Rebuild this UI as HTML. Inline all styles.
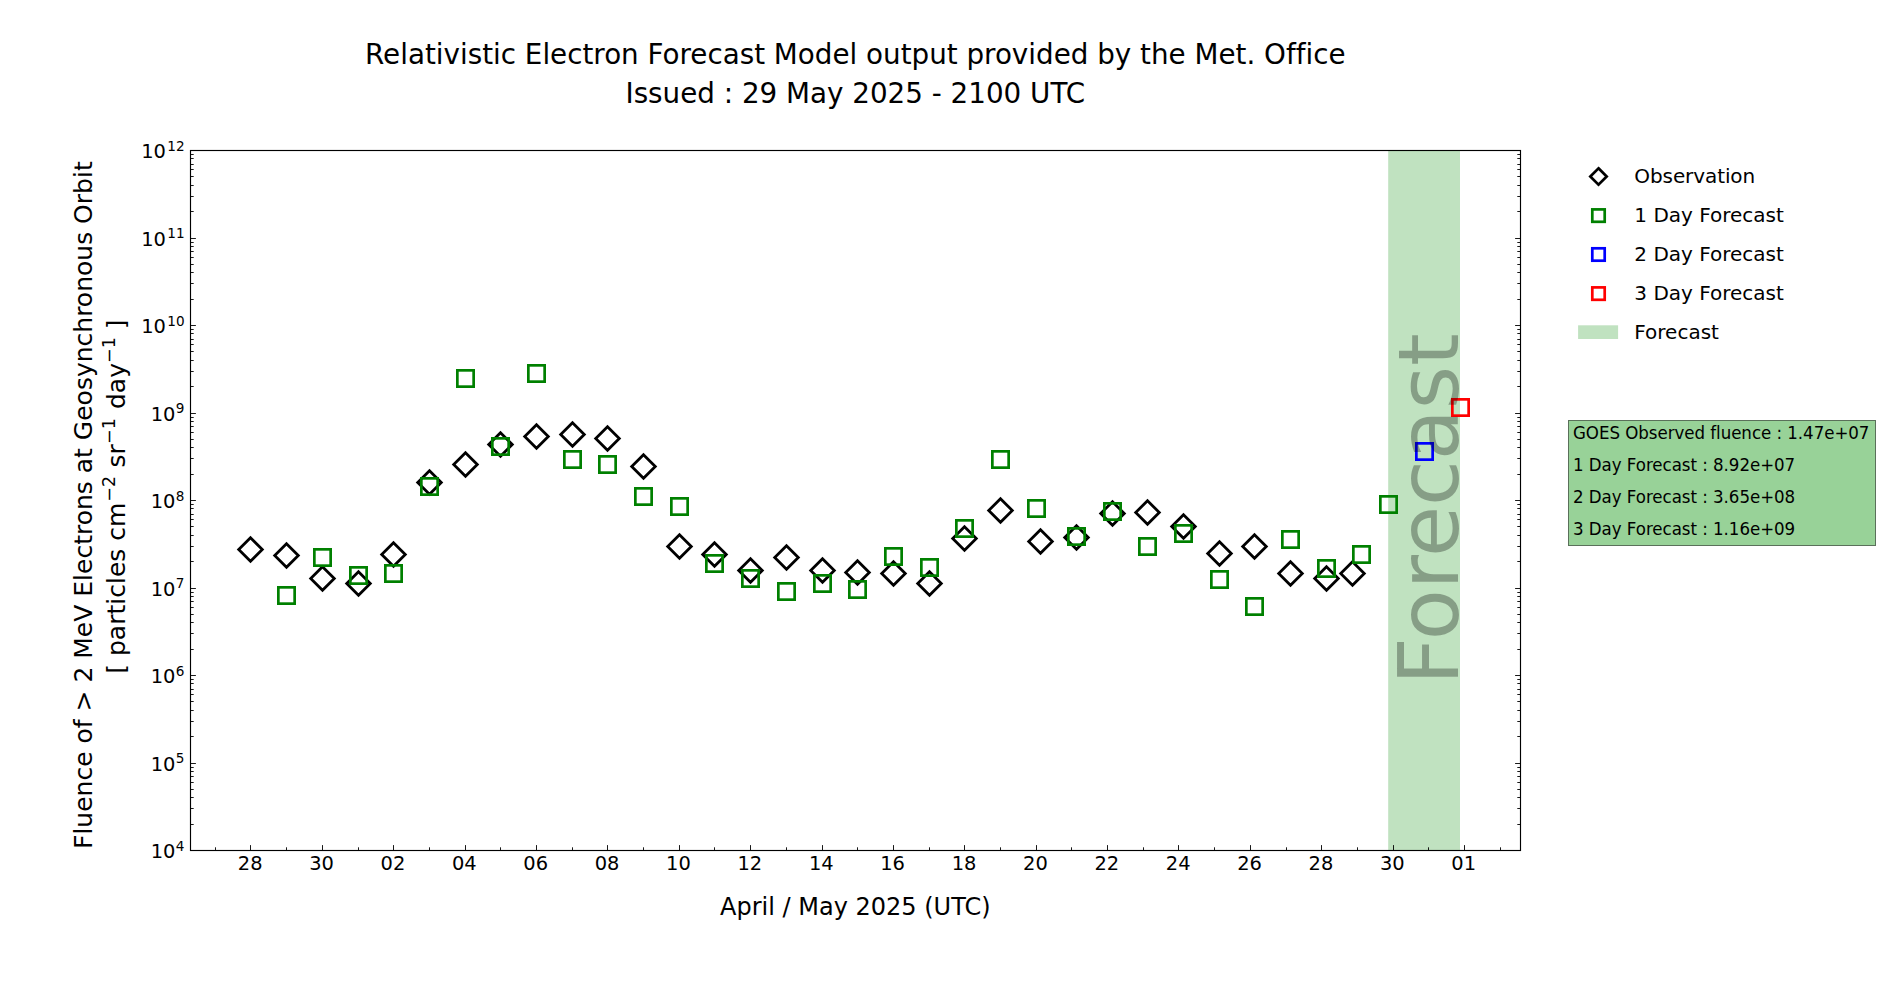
<!DOCTYPE html>
<html lang="en"><head><meta charset="utf-8"><title>Relativistic Electron Forecast Model</title>
<style>html,body{margin:0;padding:0;background:#fff;}body{width:1900px;height:1000px;overflow:hidden;}svg{display:block;}text{font-family:"DejaVu Sans","Liberation Sans",sans-serif;fill:#000;font-variant-ligatures:none;font-kerning:normal;}</style></head><body>
<svg width="1900" height="1000" viewBox="0 0 1900 1000">
<rect x="0" y="0" width="1900" height="1000" fill="#ffffff"/>
<g font-size="27.78" text-anchor="middle">
<text x="855.3" y="64.3">Relativistic Electron Forecast Model output provided by the Met. Office</text>
<text x="855.3" y="103">Issued : 29 May 2025 - 2100 UTC</text>
</g>
<rect x="1388.2" y="150.5" width="71.8" height="700.0" fill="#c0e2c0"/>
<g stroke="#000" stroke-width="0.9" fill="none">
<path d="M215.50 850.5v-3.2M250.50 850.5v-5.4M286.50 850.5v-3.2M322.50 850.5v-5.4M358.50 850.5v-3.2M393.50 850.5v-5.4M429.50 850.5v-3.2M465.50 850.5v-5.4M500.50 850.5v-3.2M536.50 850.5v-5.4M572.50 850.5v-3.2M607.50 850.5v-5.4M643.50 850.5v-3.2M679.50 850.5v-5.4M714.50 850.5v-3.2M750.50 850.5v-5.4M786.50 850.5v-3.2M822.50 850.5v-5.4M857.50 850.5v-3.2M893.50 850.5v-5.4M929.50 850.5v-3.2M964.50 850.5v-5.4M1000.50 850.5v-3.2M1036.50 850.5v-5.4M1071.50 850.5v-3.2M1107.50 850.5v-5.4M1143.50 850.5v-3.2M1178.50 850.5v-5.4M1214.50 850.5v-3.2M1250.50 850.5v-5.4M1286.50 850.5v-3.2M1321.50 850.5v-5.4M1357.50 850.5v-3.2M1393.50 850.5v-5.4M1428.50 850.5v-3.2M1464.50 850.5v-5.4M1500.50 850.5v-3.2M190.5 850.50h5.4M1520.5 850.50h-5.4M190.5 824.50h3.2M1520.5 824.50h-3.2M190.5 808.50h3.2M1520.5 808.50h-3.2M190.5 797.50h3.2M1520.5 797.50h-3.2M190.5 789.50h3.2M1520.5 789.50h-3.2M190.5 782.50h3.2M1520.5 782.50h-3.2M190.5 776.50h3.2M1520.5 776.50h-3.2M190.5 771.50h3.2M1520.5 771.50h-3.2M190.5 767.50h3.2M1520.5 767.50h-3.2M190.5 763.50h5.4M1520.5 763.50h-5.4M190.5 736.50h3.2M1520.5 736.50h-3.2M190.5 721.50h3.2M1520.5 721.50h-3.2M190.5 710.50h3.2M1520.5 710.50h-3.2M190.5 701.50h3.2M1520.5 701.50h-3.2M190.5 694.50h3.2M1520.5 694.50h-3.2M190.5 689.50h3.2M1520.5 689.50h-3.2M190.5 683.50h3.2M1520.5 683.50h-3.2M190.5 679.50h3.2M1520.5 679.50h-3.2M190.5 675.50h5.4M1520.5 675.50h-5.4M190.5 649.50h3.2M1520.5 649.50h-3.2M190.5 633.50h3.2M1520.5 633.50h-3.2M190.5 622.50h3.2M1520.5 622.50h-3.2M190.5 614.50h3.2M1520.5 614.50h-3.2M190.5 607.50h3.2M1520.5 607.50h-3.2M190.5 601.50h3.2M1520.5 601.50h-3.2M190.5 596.50h3.2M1520.5 596.50h-3.2M190.5 592.50h3.2M1520.5 592.50h-3.2M190.5 588.50h5.4M1520.5 588.50h-5.4M190.5 561.50h3.2M1520.5 561.50h-3.2M190.5 546.50h3.2M1520.5 546.50h-3.2M190.5 535.50h3.2M1520.5 535.50h-3.2M190.5 526.50h3.2M1520.5 526.50h-3.2M190.5 519.50h3.2M1520.5 519.50h-3.2M190.5 514.50h3.2M1520.5 514.50h-3.2M190.5 508.50h3.2M1520.5 508.50h-3.2M190.5 504.50h3.2M1520.5 504.50h-3.2M190.5 500.50h5.4M1520.5 500.50h-5.4M190.5 474.50h3.2M1520.5 474.50h-3.2M190.5 458.50h3.2M1520.5 458.50h-3.2M190.5 447.50h3.2M1520.5 447.50h-3.2M190.5 439.50h3.2M1520.5 439.50h-3.2M190.5 432.50h3.2M1520.5 432.50h-3.2M190.5 426.50h3.2M1520.5 426.50h-3.2M190.5 421.50h3.2M1520.5 421.50h-3.2M190.5 417.50h3.2M1520.5 417.50h-3.2M190.5 413.50h5.4M1520.5 413.50h-5.4M190.5 386.50h3.2M1520.5 386.50h-3.2M190.5 371.50h3.2M1520.5 371.50h-3.2M190.5 360.50h3.2M1520.5 360.50h-3.2M190.5 351.50h3.2M1520.5 351.50h-3.2M190.5 344.50h3.2M1520.5 344.50h-3.2M190.5 339.50h3.2M1520.5 339.50h-3.2M190.5 333.50h3.2M1520.5 333.50h-3.2M190.5 329.50h3.2M1520.5 329.50h-3.2M190.5 325.50h5.4M1520.5 325.50h-5.4M190.5 299.50h3.2M1520.5 299.50h-3.2M190.5 283.50h3.2M1520.5 283.50h-3.2M190.5 272.50h3.2M1520.5 272.50h-3.2M190.5 264.50h3.2M1520.5 264.50h-3.2M190.5 257.50h3.2M1520.5 257.50h-3.2M190.5 251.50h3.2M1520.5 251.50h-3.2M190.5 246.50h3.2M1520.5 246.50h-3.2M190.5 242.50h3.2M1520.5 242.50h-3.2M190.5 238.50h5.4M1520.5 238.50h-5.4M190.5 211.50h3.2M1520.5 211.50h-3.2M190.5 196.50h3.2M1520.5 196.50h-3.2M190.5 185.50h3.2M1520.5 185.50h-3.2M190.5 176.50h3.2M1520.5 176.50h-3.2M190.5 169.50h3.2M1520.5 169.50h-3.2M190.5 164.50h3.2M1520.5 164.50h-3.2M190.5 158.50h3.2M1520.5 158.50h-3.2M190.5 154.50h3.2M1520.5 154.50h-3.2M190.5 150.50h5.4M1520.5 150.50h-5.4"/>
</g>
<g fill="none" stroke="#000" stroke-width="2.78" stroke-linejoin="miter">
<path d="M250.5 537.7L262.3 549.5L250.5 561.3L238.7 549.5Z"/>
<path d="M286.5 543.7L298.3 555.5L286.5 567.3L274.7 555.5Z"/>
<path d="M322.5 566.7L334.3 578.5L322.5 590.3L310.7 578.5Z"/>
<path d="M358.5 571.7L370.3 583.5L358.5 595.3L346.7 583.5Z"/>
<path d="M393.5 542.7L405.3 554.5L393.5 566.3L381.7 554.5Z"/>
<path d="M429.5 470.7L441.3 482.5L429.5 494.3L417.7 482.5Z"/>
<path d="M465.5 452.7L477.3 464.5L465.5 476.3L453.7 464.5Z"/>
<path d="M500.5 432.7L512.3 444.5L500.5 456.3L488.7 444.5Z"/>
<path d="M536.5 424.7L548.3 436.5L536.5 448.3L524.7 436.5Z"/>
<path d="M572.5 422.7L584.3 434.5L572.5 446.3L560.7 434.5Z"/>
<path d="M607.5 426.7L619.3 438.5L607.5 450.3L595.7 438.5Z"/>
<path d="M643.5 454.7L655.3 466.5L643.5 478.3L631.7 466.5Z"/>
<path d="M679.5 534.7L691.3 546.5L679.5 558.3L667.7 546.5Z"/>
<path d="M714.5 542.7L726.3 554.5L714.5 566.3L702.7 554.5Z"/>
<path d="M750.5 558.7L762.3 570.5L750.5 582.3L738.7 570.5Z"/>
<path d="M786.5 545.7L798.3 557.5L786.5 569.3L774.7 557.5Z"/>
<path d="M822.5 558.7L834.3 570.5L822.5 582.3L810.7 570.5Z"/>
<path d="M857.5 560.7L869.3 572.5L857.5 584.3L845.7 572.5Z"/>
<path d="M893.5 561.7L905.3 573.5L893.5 585.3L881.7 573.5Z"/>
<path d="M929.5 571.7L941.3 583.5L929.5 595.3L917.7 583.5Z"/>
<path d="M964.5 526.7L976.3 538.5L964.5 550.3L952.7 538.5Z"/>
<path d="M1000.5 498.7L1012.3 510.5L1000.5 522.3L988.7 510.5Z"/>
<path d="M1040.5 529.7L1052.3 541.5L1040.5 553.3L1028.7 541.5Z"/>
<path d="M1076.5 525.7L1088.3 537.5L1076.5 549.3L1064.7 537.5Z"/>
<path d="M1112.5 501.7L1124.3 513.5L1112.5 525.3L1100.7 513.5Z"/>
<path d="M1147.5 500.7L1159.3 512.5L1147.5 524.3L1135.7 512.5Z"/>
<path d="M1183.5 514.7L1195.3 526.5L1183.5 538.3L1171.7 526.5Z"/>
<path d="M1219.5 541.7L1231.3 553.5L1219.5 565.3L1207.7 553.5Z"/>
<path d="M1254.5 534.7L1266.3 546.5L1254.5 558.3L1242.7 546.5Z"/>
<path d="M1290.5 561.7L1302.3 573.5L1290.5 585.3L1278.7 573.5Z"/>
<path d="M1326.5 566.7L1338.3 578.5L1326.5 590.3L1314.7 578.5Z"/>
<path d="M1352.5 561.7L1364.3 573.5L1352.5 585.3L1340.7 573.5Z"/>
</g>
<g fill="none" stroke="#008000" stroke-width="2.7">
<rect x="278.35" y="587.35" width="16.3" height="16.3"/>
<rect x="314.35" y="549.35" width="16.3" height="16.3"/>
<rect x="350.35" y="567.35" width="16.3" height="16.3"/>
<rect x="385.35" y="565.35" width="16.3" height="16.3"/>
<rect x="421.35" y="478.35" width="16.3" height="16.3"/>
<rect x="457.35" y="370.35" width="16.3" height="16.3"/>
<rect x="492.35" y="438.35" width="16.3" height="16.3"/>
<rect x="528.35" y="365.35" width="16.3" height="16.3"/>
<rect x="564.35" y="451.35" width="16.3" height="16.3"/>
<rect x="599.35" y="456.35" width="16.3" height="16.3"/>
<rect x="635.35" y="488.35" width="16.3" height="16.3"/>
<rect x="671.35" y="498.35" width="16.3" height="16.3"/>
<rect x="706.35" y="555.35" width="16.3" height="16.3"/>
<rect x="742.35" y="570.35" width="16.3" height="16.3"/>
<rect x="778.35" y="583.35" width="16.3" height="16.3"/>
<rect x="814.35" y="575.35" width="16.3" height="16.3"/>
<rect x="849.35" y="581.35" width="16.3" height="16.3"/>
<rect x="885.35" y="548.35" width="16.3" height="16.3"/>
<rect x="921.35" y="559.35" width="16.3" height="16.3"/>
<rect x="956.35" y="520.35" width="16.3" height="16.3"/>
<rect x="992.35" y="451.35" width="16.3" height="16.3"/>
<rect x="1028.35" y="500.35" width="16.3" height="16.3"/>
<rect x="1068.35" y="528.35" width="16.3" height="16.3"/>
<rect x="1104.35" y="503.35" width="16.3" height="16.3"/>
<rect x="1139.35" y="538.35" width="16.3" height="16.3"/>
<rect x="1175.35" y="525.35" width="16.3" height="16.3"/>
<rect x="1211.35" y="571.35" width="16.3" height="16.3"/>
<rect x="1246.35" y="598.35" width="16.3" height="16.3"/>
<rect x="1282.35" y="531.35" width="16.3" height="16.3"/>
<rect x="1318.35" y="560.35" width="16.3" height="16.3"/>
<rect x="1353.35" y="546.35" width="16.3" height="16.3"/>
<rect x="1380.35" y="496.35" width="16.3" height="16.3"/>
</g>
<rect x="1416.35" y="443.35" width="16.3" height="16.3" fill="none" stroke="#0000ff" stroke-width="2.7"/>
<rect x="1452.35" y="399.35" width="16.3" height="16.3" fill="none" stroke="#ff0000" stroke-width="2.7"/>
<text transform="translate(1458 685) rotate(-90)" font-size="83.33" letter-spacing="-0.14" fill="#000" fill-opacity="0.3">Forecast</text>
<rect x="190.5" y="150.5" width="1330.0" height="700.0" fill="none" stroke="#000" stroke-width="1.15"/>
<g font-size="19.44" text-anchor="middle">
<text x="250.16" y="870">28</text>
<text x="321.55" y="870">30</text>
<text x="392.93" y="870">02</text>
<text x="464.32" y="870">04</text>
<text x="535.70" y="870">06</text>
<text x="607.09" y="870">08</text>
<text x="678.48" y="870">10</text>
<text x="749.86" y="870">12</text>
<text x="821.25" y="870">14</text>
<text x="892.63" y="870">16</text>
<text x="964.02" y="870">18</text>
<text x="1035.41" y="870">20</text>
<text x="1106.79" y="870">22</text>
<text x="1178.18" y="870">24</text>
<text x="1249.56" y="870">26</text>
<text x="1320.95" y="870">28</text>
<text x="1392.34" y="870">30</text>
<text x="1463.72" y="870">01</text>
</g>
<g font-size="19.44" text-anchor="end">
<text x="184.5" y="858.00">10<tspan font-size="13.6" dx="0.4" dy="-7.4">4</tspan></text>
<text x="184.5" y="770.50">10<tspan font-size="13.6" dx="0.4" dy="-7.4">5</tspan></text>
<text x="184.5" y="683.00">10<tspan font-size="13.6" dx="0.4" dy="-7.4">6</tspan></text>
<text x="184.5" y="595.50">10<tspan font-size="13.6" dx="0.4" dy="-7.4">7</tspan></text>
<text x="184.5" y="508.00">10<tspan font-size="13.6" dx="0.4" dy="-7.4">8</tspan></text>
<text x="184.5" y="420.50">10<tspan font-size="13.6" dx="0.4" dy="-7.4">9</tspan></text>
<text x="184.6" y="333.00">10<tspan font-size="13.6" dx="1.4" dy="-7.4">10</tspan></text>
<text x="184.6" y="245.50">10<tspan font-size="13.6" dx="1.4" dy="-7.4">11</tspan></text>
<text x="184.6" y="158.00">10<tspan font-size="13.6" dx="1.4" dy="-7.4">12</tspan></text>
</g>
<text x="855.3" y="915" font-size="24" text-anchor="middle">April / May 2025 (UTC)</text>
<text transform="translate(92 849) rotate(-90)" font-size="25">Fluence of &gt; 2 MeV Electrons at Geosynchronous Orbit</text>
<text transform="translate(124.5 673.7) rotate(-90)" xml:space="preserve"><tspan x="0" y="0" font-size="25">[ particles cm</tspan><tspan x="172.0" y="-9.57" font-size="17.5">−2</tspan><tspan x="198.2" y="0" font-size="25"> sr</tspan><tspan x="229.7" y="-9.57" font-size="17.5">−1</tspan><tspan x="256.75" y="0" font-size="25"> day</tspan><tspan x="310.7" y="-9.57" font-size="17.5">−1</tspan><tspan x="336.4" y="0" font-size="25"> ]</tspan></text>
<g fill="none" stroke-width="2.7">
<path d="M1598.5 168.3L1606.7 176.5L1598.5 184.7L1590.3 176.5Z" stroke="#000"/>
<rect x="1592.3" y="209.4" width="12.4" height="12.4" stroke="#008000"/>
<rect x="1592.3" y="248.3" width="12.4" height="12.4" stroke="#0000ff"/>
<rect x="1592.3" y="287.40000000000003" width="12.4" height="12.4" stroke="#ff0000"/>
</g>
<rect x="1578.1" y="325.3" width="40" height="13.7" fill="#c0e2c0"/>
<g font-size="20">
<text x="1634.3" y="183" letter-spacing="-0.09">Observation</text>
<text x="1634.3" y="222">1 Day Forecast</text>
<text x="1634.3" y="261">2 Day Forecast</text>
<text x="1634.3" y="300">3 Day Forecast</text>
<text x="1634.3" y="338.8">Forecast</text>
</g>
<rect x="1568.5" y="420.5" width="307" height="125" fill="#98d298" stroke="#5a705a" stroke-width="1"/>
<g font-size="16.67" letter-spacing="-0.045">
<text transform="translate(1573 438.7) scale(1 1.075)">GOES Observed fluence : 1.47e+07</text>
<text transform="translate(1573 470.8) scale(1 1.075)">1 Day Forecast : 8.92e+07</text>
<text transform="translate(1573 502.7) scale(1 1.075)">2 Day Forecast : 3.65e+08</text>
<text transform="translate(1573 534.8) scale(1 1.075)">3 Day Forecast : 1.16e+09</text>
</g>
</svg></body></html>
